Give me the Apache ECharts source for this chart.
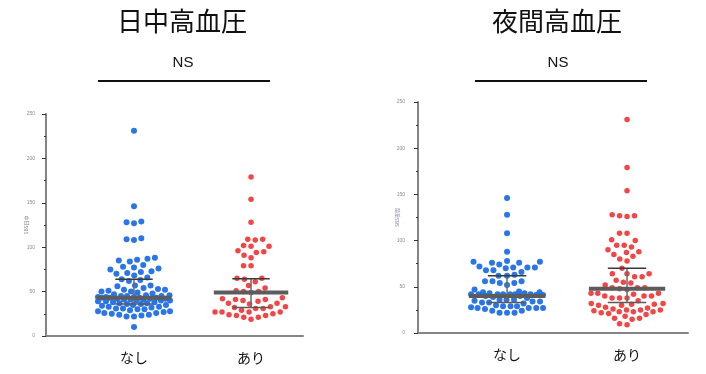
<!DOCTYPE html>
<html>
<head>
<meta charset="utf-8">
<script src="https://cdn.jsdelivr.net/npm/echarts@6/dist/echarts.min.js"></script>
<style>
  html, body { margin: 0; padding: 0; background: #fff; }
  #chart { width: 706px; height: 374px; }
</style>
</head>
<body>
<div id="chart"></div>
<script>
// Groups and panel labels
const groups = ['なし', 'あり'];
const panelTitles = ['日中高血圧', '夜間高血圧'];
const yAxisNames = ['SBS日中', 'SBS夜間'];
const yMax = 250;
const yStep = 50;

// Daytime hypertension panel: individual values per group
const dayNone = [231, 146, 129, 128, 127, 110, 109, 108, 88, 87, 86, 85, 84, 80, 78, 77, 76, 75, 73, 72, 71, 70, 68, 66, 64, 63, 62,
  57, 57, 56, 54, 53, 52, 52, 51, 50, 50, 49, 48,
  47, 46, 46, 45, 45, 45, 44, 44, 44, 43, 43, 43, 43, 42, 42, 42, 41, 41, 41, 40, 40, 40, 39, 39, 38, 38, 37, 37, 36, 36, 35, 35,
  34, 33, 33, 32, 31, 31, 30, 30, 29, 28, 28, 27, 26, 26, 25, 24, 24, 23, 22, 22, 10];
const dayWith = [179, 154, 128, 109, 109, 108, 102, 101, 101, 96, 95, 94, 91, 88, 79, 79, 65, 65, 64, 61, 57, 54, 51, 50, 50, 49,
  43, 42, 41, 41, 40, 39, 37, 37, 36, 33, 33, 32, 31, 31, 29, 27, 27, 27, 27, 25, 24, 23, 23, 21, 21, 19];

// Nighttime hypertension panel: individual values per group
const nightNone = [146, 128, 108, 88, 78, 77, 77, 76, 76, 74, 72, 71, 71, 71, 70, 68, 68, 66, 63, 62, 62,
  56, 56, 56, 54, 54, 52, 47, 45, 44, 44, 43, 43, 42, 42, 42, 42, 42, 42, 42, 41, 41, 40, 40, 39, 38,
  36, 36, 36, 35, 34, 34, 33, 33, 32, 30, 29, 29, 29, 28, 27, 27, 27, 27, 26, 24, 24, 22, 22, 22];
const nightWith = [231, 179, 154, 128, 127, 127, 126, 108, 108, 101, 100, 95, 95, 93, 90, 88, 87, 85, 83, 80, 78,
  70, 64, 64, 64, 61, 61, 57, 55, 54, 52, 49, 49, 49, 48, 47, 43, 43, 43, 42, 40, 40, 40, 38, 38, 38,
  35, 32, 32, 31, 31, 30, 30, 28, 27, 26, 25, 25, 25, 24, 23, 23, 23, 22, 21, 20, 18, 16, 16, 15, 10, 9];

// Median and interquartile range per group [なし, あり]
const dayMedian = [43, 49];
const dayQ1 = [36, 32];
const dayQ3 = [64, 64.5];
const nightMedian = [40, 48];
const nightQ1 = [33, 33];
const nightQ3 = [62, 70];

const colors = ['#1f6ee6', '#f03c3c'];
const dotSizes = [6, 5.5];
const cjk = '"Noto Sans CJK JP", "Noto Sans CJK SC", sans-serif';
const latin = '"Liberation Sans", Arial, sans-serif';

const chart = echarts.init(document.getElementById('chart'), null, { renderer: 'canvas' });

function xAxisFor(gi, min, max) {
  return {
    gridIndex: gi, type: 'value', min: min, max: max,
    axisLine: { show: true, onZero: false, lineStyle: { color: '#858585', width: 2 } },
    axisTick: { show: false },
    splitLine: { show: false },
    axisLabel: {
      customValues: [0, 1],
      formatter: v => groups[Math.round(v)],
      fontSize: 14, color: '#111', fontFamily: cjk, margin: 15
    }
  };
}

function yAxisFor(gi, name, margin, gap) {
  return {
    gridIndex: gi, type: 'value', min: 0, max: yMax, interval: yStep,
    name: name, nameLocation: 'middle', nameGap: gap, nameMoveOverlap: false,
    nameTextStyle: { fontSize: 5, color: '#8b86a3', fontFamily: cjk },
    axisLine: { show: true, onZero: false, lineStyle: { color: '#858585', width: 2 } },
    axisTick: { show: true, length: 4, lineStyle: { color: '#333', width: 1 } },
    minorTick: { show: true, splitNumber: 2, length: 2, lineStyle: { color: '#333', width: 1 } },
    splitLine: { show: false },
    minorSplitLine: { show: false },
    axisLabel: { fontSize: 5, color: '#8b86a3', margin: margin, fontFamily: latin }
  };
}

// Median bar with quartile caps
function renderStats(params, api) {
  const x = api.value(0);
  const med = api.coord([x, api.value(1)]);
  const q1 = api.coord([x, api.value(2)]);
  const q3 = api.coord([x, api.value(3)]);
  const unit = api.size([1, 0])[0];
  const mw = 0.318 * unit, qw = 0.16 * unit;
  return {
    type: 'group',
    children: [
      { type: 'line', shape: { x1: med[0], y1: q1[1], x2: med[0], y2: q3[1] }, style: { stroke: '#6a6a6a', lineWidth: 1.5 } },
      { type: 'line', shape: { x1: med[0] - qw, y1: q3[1], x2: med[0] + qw, y2: q3[1] }, style: { stroke: '#3a3a3a', lineWidth: 1.5 } },
      { type: 'line', shape: { x1: med[0] - qw, y1: q1[1], x2: med[0] + qw, y2: q1[1] }, style: { stroke: '#5a5a5a', lineWidth: 1.5 } },
      { type: 'line', shape: { x1: med[0] - mw, y1: med[1], x2: med[0] + mw, y2: med[1] }, style: { stroke: '#5c5c5c', lineWidth: 4 } }
    ]
  };
}

function statsData(med, q1, q3) {
  return med.map((m, i) => [i, m, q1[i], q3[i]]);
}

const titleFont = 'normal 26px ' + cjk;
const nsFont = 'normal 15px ' + latin;

chart.setOption({
  animation: false,
  backgroundColor: '#fff',
  grid: [
    { left: 46, top: 114, width: 257, height: 222 },
    { left: 418, top: 102, width: 270, height: 231 }
  ],
  xAxis: [xAxisFor(0, -0.752, 1.444), xAxisFor(1, -0.742, 1.508)],
  yAxis: [yAxisFor(0, yAxisNames[0], 11, 17), yAxisFor(1, yAxisNames[1], 13, 18)],
  graphic: [
    { type: 'text', x: 182, y: 21, style: { text: panelTitles[0], font: titleFont, fill: '#111', textAlign: 'center', textVerticalAlign: 'middle' } },
    { type: 'text', x: 557, y: 21, style: { text: panelTitles[1], font: titleFont, fill: '#111', textAlign: 'center', textVerticalAlign: 'middle' } },
    { type: 'text', x: 183, y: 63, style: { text: 'NS', font: nsFont, fill: '#111', textAlign: 'center', textVerticalAlign: 'middle' } },
    { type: 'text', x: 558, y: 63, style: { text: 'NS', font: nsFont, fill: '#111', textAlign: 'center', textVerticalAlign: 'middle' } },
    { type: 'line', shape: { x1: 98, y1: 81, x2: 270, y2: 81 }, style: { stroke: '#111', lineWidth: 2 } },
    { type: 'line', shape: { x1: 475, y1: 81, x2: 647, y2: 81 }, style: { stroke: '#111', lineWidth: 2 } }
  ],
  series: []
});

// Spread points sideways within a capped width; when a band is too
// crowded, take the slot that keeps the most room to its neighbours.
function swarm(values, gridIndex, center, diam, maxHalf) {
  const finder = { gridIndex: gridIndex };
  const o = chart.convertToPixel(finder, [center, 0]);
  const unitX = chart.convertToPixel(finder, [center + 1, 0])[0] - o[0];
  const placed = [];
  const out = [];
  const order = values.map((v, i) => i).sort((a, b) => values[a] - values[b]);
  const d2 = diam * diam;
  order.forEach(i => {
    const py = chart.convertToPixel(finder, [center, values[i]])[1];
    const near = placed.filter(p => Math.abs(p.y - py) < diam);
    const cands = [0];
    near.forEach(p => {
      const dx = Math.sqrt(d2 - (p.y - py) * (p.y - py));
      cands.push(p.x - dx, p.x + dx);
    });
    const ok = cands
      .filter(c => Math.abs(c) <= maxHalf)
      .filter(c => near.every(p => (p.x - c) * (p.x - c) + (p.y - py) * (p.y - py) >= d2 - 1e-6))
      .sort((a, b) => Math.abs(a) - Math.abs(b));
    let best;
    if (ok.length) {
      best = ok[0];
    } else {
      let bestGap = -1;
      best = 0;
      for (let c = -maxHalf; c <= maxHalf; c += 0.5) {
        let gap = Infinity;
        placed.forEach(p => {
          const g = (p.x - c) * (p.x - c) + (p.y - py) * (p.y - py);
          if (g < gap) gap = g;
        });
        if (gap > bestGap + 1e-6) { bestGap = gap; best = c; }
      }
    }
    placed.push({ x: best, y: py });
    out.push([center + best / unitX, values[i]]);
  });
  return out;
}

const diam = 7.5;
function dots(values, gi, idx) {
  return {
    type: 'scatter', xAxisIndex: gi, yAxisIndex: gi,
    symbol: 'circle', symbolSize: dotSizes[idx],
    itemStyle: { color: colors[idx], opacity: 0.95 },
    data: swarm(values, gi, idx, diam, 36), z: 2
  };
}
function stats(gi, med, q1, q3) {
  return {
    type: 'custom', xAxisIndex: gi, yAxisIndex: gi,
    renderItem: renderStats, data: statsData(med, q1, q3), z: 5, silent: true
  };
}

chart.setOption({
  series: [
    dots(dayNone, 0, 0),
    dots(dayWith, 0, 1),
    dots(nightNone, 1, 0),
    dots(nightWith, 1, 1),
    stats(0, dayMedian, dayQ1, dayQ3),
    stats(1, nightMedian, nightQ1, nightQ3)
  ]
});
</script>
</body>
</html>
